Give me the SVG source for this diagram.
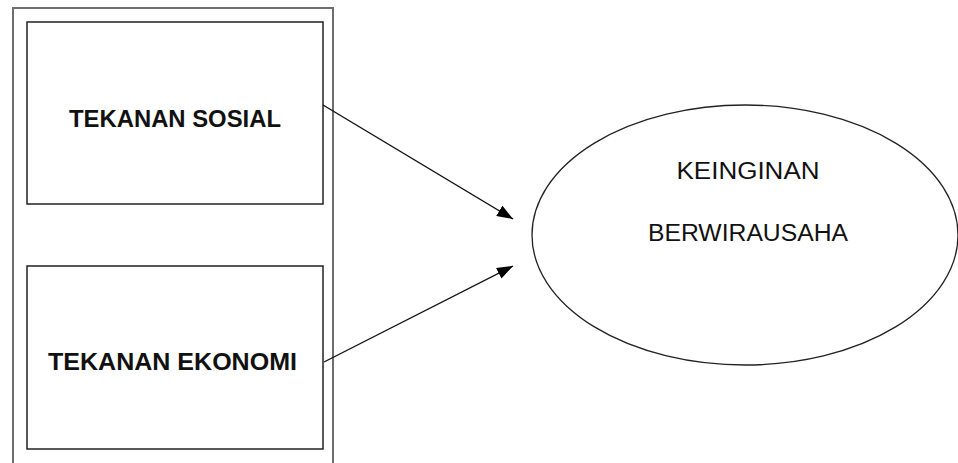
<svg xmlns="http://www.w3.org/2000/svg" width="958" height="463" viewBox="0 0 958 463">
<style>
.frame{fill:none;stroke:#6e6e6e;stroke-width:2}
.box{fill:#fff;stroke:#222;stroke-width:1.5}
.ell{fill:#fff;stroke:#222;stroke-width:1.3}
.conn{fill:none;stroke:#111;stroke-width:1.4}
.lb{font-family:"Liberation Sans",Arial,sans-serif;font-weight:bold;font-size:23.5px;fill:#111;text-anchor:middle}
.lr{font-family:"Liberation Sans",Arial,sans-serif;font-size:23px;fill:#111;text-anchor:middle}
</style>
<defs>
<marker id="arr" viewBox="0 0 16 12" refX="16" refY="6" markerWidth="16" markerHeight="12" markerUnits="userSpaceOnUse" orient="auto">
<path d="M0,0 L16,6 L0,12 Z" fill="#000"/>
</marker>
</defs>
<rect width="958" height="463" fill="#fff"/>
<g id="frame">
<path class="frame" d="M13,470 V8 H333 V470"/>
</g>
<g id="tekanan-sosial">
<rect class="box" x="27" y="22" width="296" height="182"/>
<text class="lb" x="175" y="127" textLength="212" lengthAdjust="spacingAndGlyphs">TEKANAN SOSIAL</text>
</g>
<g id="tekanan-ekonomi">
<rect class="box" x="27" y="266" width="296" height="183"/>
<text class="lb" x="172.5" y="370" textLength="249" lengthAdjust="spacingAndGlyphs">TEKANAN EKONOMI</text>
</g>
<g id="keinginan-berwirausaha">
<ellipse class="ell" cx="745" cy="235" rx="213" ry="130"/>
<text class="lr" x="748" y="179" textLength="143" lengthAdjust="spacingAndGlyphs">KEINGINAN</text>
<text class="lr" x="748" y="241" textLength="200" lengthAdjust="spacingAndGlyphs">BERWIRAUSAHA</text>
</g>
<g id="connectors">
<line class="conn" x1="323" y1="105" x2="513" y2="219" marker-end="url(#arr)"/>
<line class="conn" x1="324" y1="362" x2="513" y2="266" marker-end="url(#arr)"/>
</g>
</svg>
